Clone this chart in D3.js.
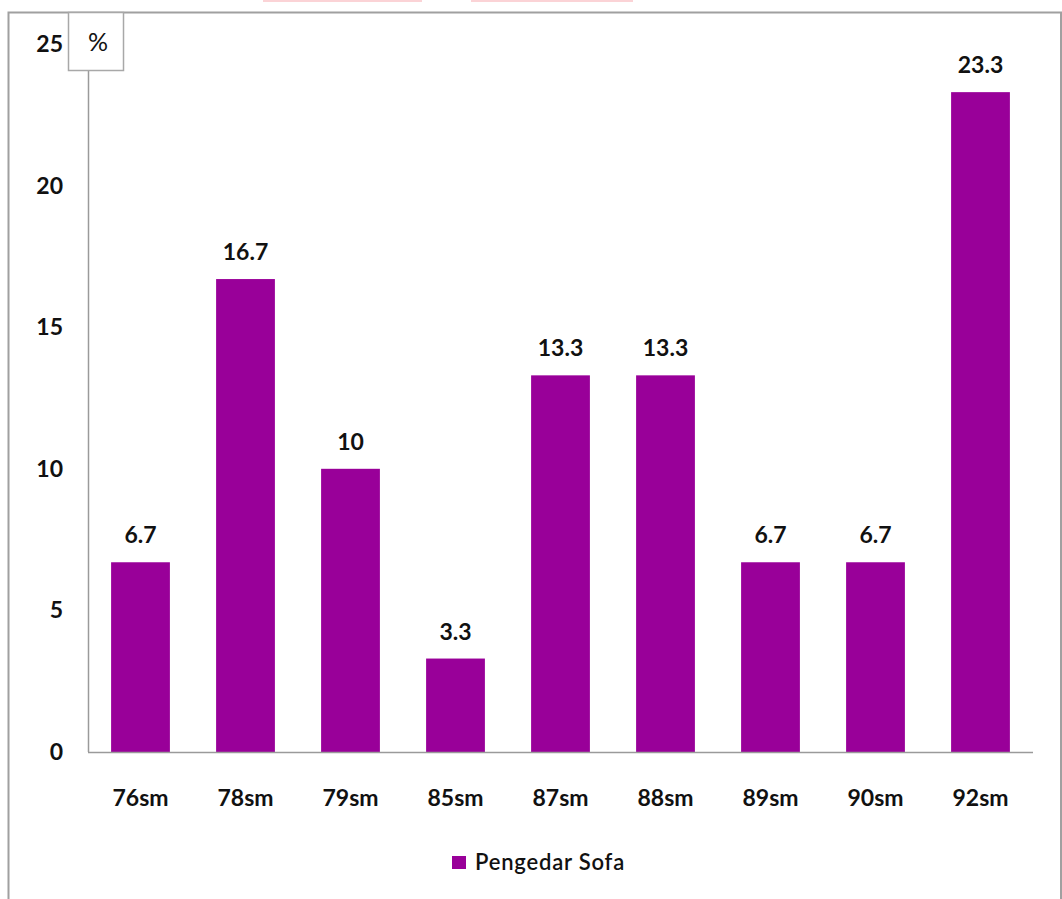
<!DOCTYPE html>
<html>
<head>
<meta charset="utf-8">
<script src="https://cdn.jsdelivr.net/npm/d3@7"></script>
<style>
  html, body { margin: 0; padding: 0; background: #fff; }
  svg { display: block; }
  text { font-family: Lato, "Open Sans", sans-serif; fill: #111; }
</style>
</head>
<body>
<svg id="chart" width="1062" height="899"></svg>
<script>
const categories = ["76sm", "78sm", "79sm", "85sm", "87sm", "88sm", "89sm", "90sm", "92sm"];
const values = [6.7, 16.7, 10, 3.3, 13.3, 13.3, 6.7, 6.7, 23.3];
const valueLabels = ["6.7", "16.7", "10", "3.3", "13.3", "13.3", "6.7", "6.7", "23.3"];
const yTicks = [0, 5, 10, 15, 20, 25];
const seriesName = "Pengedar Sofa";
const unitLabel = "%";

const svg = d3.select("#chart");
const color = "#990099";
const fs = 23;

// faint decorations at top edge
svg.append("rect").attr("x", 263).attr("y", 0).attr("width", 159).attr("height", 2).attr("fill", "#fbd3d6");
svg.append("rect").attr("x", 471).attr("y", 0).attr("width", 162).attr("height", 2).attr("fill", "#fbd3d6");

// outer frame
svg.append("path")
  .attr("d", "M8.5,905 L8.5,12.5 L1061,12.5 L1061,905")
  .attr("fill", "none").attr("stroke", "#a0a0a0").attr("stroke-width", 2);

const x = d3.scaleBand().domain(categories).range([88, 1033]).paddingInner(0.44).paddingOuter(0.22);
const y = d3.scaleLinear().domain([0, 25]).range([752, 44]);

svg.append("line").attr("x1", 88.5).attr("x2", 88.5).attr("y1", 70).attr("y2", y(0))
  .attr("stroke", "#9a9a9a").attr("stroke-width", 1.5);

// bars
svg.selectAll("rect.bar").data(values).join("rect")
  .attr("class", "bar")
  .attr("x", (d, i) => x(categories[i]))
  .attr("width", x.bandwidth())
  .attr("y", d => y(d))
  .attr("height", d => y(0) - y(d))
  .attr("fill", color);

svg.append("line").attr("x1", 88).attr("x2", 1033).attr("y1", y(0) + 0.5).attr("y2", y(0) + 0.5)
  .attr("stroke", "#9a9a9a").attr("stroke-width", 1.5);

// y tick labels
svg.selectAll("text.ytick").data(yTicks).join("text")
  .attr("class", "ytick")
  .attr("x", 63).attr("y", d => y(d) + 8)
  .attr("text-anchor", "end")
  .attr("font-size", fs).attr("font-weight", "bold")
  .text(d => d);

// x labels
svg.selectAll("text.xlab").data(categories).join("text")
  .attr("class", "xlab")
  .attr("x", d => x(d) + x.bandwidth() / 2)
  .attr("y", 806)
  .attr("text-anchor", "middle")
  .attr("font-size", fs).attr("font-weight", "bold")
  .text(d => d);

// value labels
svg.selectAll("text.vlab").data(values).join("text")
  .attr("class", "vlab")
  .attr("x", (d, i) => x(categories[i]) + x.bandwidth() / 2)
  .attr("y", d => y(d) - 19)
  .attr("text-anchor", "middle")
  .attr("font-size", fs).attr("font-weight", "bold")
  .text((d, i) => valueLabels[i]);

// unit box
svg.append("rect").attr("x", 68.5).attr("y", 12.5).attr("width", 55).attr("height", 58)
  .attr("fill", "#fff").attr("stroke", "#a8a8a8").attr("stroke-width", 1.5);
svg.append("text").attr("x", 98).attr("y", 51).attr("text-anchor", "middle")
  .attr("font-size", 25).text(unitLabel);

// legend
svg.append("rect").attr("x", 452).attr("y", 856).attr("width", 14).attr("height", 13).attr("fill", color);
svg.append("text").attr("x", 475).attr("y", 870).attr("font-size", 22).attr("font-weight", 600)
  .attr("letter-spacing", 0.8)
  .text(seriesName);
</script>
</body>
</html>
